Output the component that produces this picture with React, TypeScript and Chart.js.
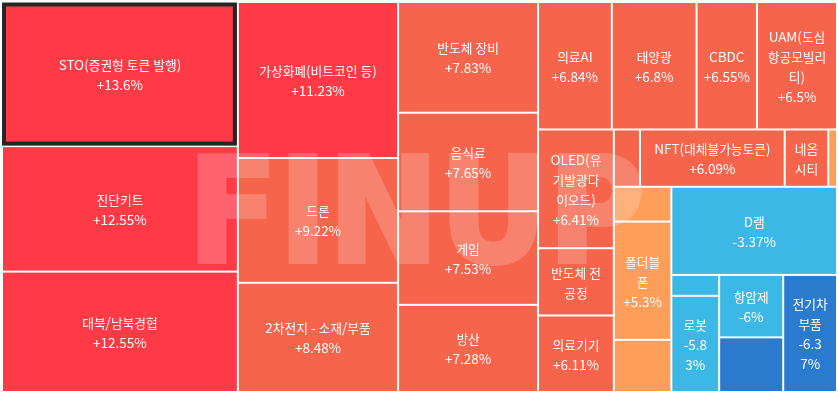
import React, { useEffect, useRef } from 'react';
import { Chart, registerables } from 'chart.js';

Chart.register(...registerables);

// ---- Data (theme heat-map, ordered by change) ----
const themeNames: string[] = [
  'STO(증권형 토큰 발행)', '진단키트', '대북/남북경협',
  '가상화폐(비트코인 등)', '드론', '2차전지 - 소재/부품',
  '반도체 장비', '음식료', '게임', '방산',
  '의료AI', '태양광', 'CBDC', 'UAM(도심항공모빌리티)',
  'OLED(유기발광다이오드)', '반도체 전공정', '의료기기',
  '마이크로 LED', 'NFT(대체불가능토큰)', '네옴시티', '스마트팩토리',
  '우주항공', '폴더블폰', '시스템반도체',
  'D램',
  '낸드플래시', '로봇',
  '항암제', '수소차(연료전지)',
  '전기차부품',
];

// % change of each theme
const changes: number[] = [
  13.6, 12.55, 12.55,
  11.23, 9.22, 8.48,
  7.83, 7.65, 7.53, 7.28,
  6.84, 6.8, 6.55, 6.5,
  6.41, 6.25, 6.11,
  6.1, 6.09, 6.02, 5.96,
  5.6, 5.3, 5.12,
  -3.37,
  -4.9, -5.83,
  -6, -6.2,
  -6.37,
];

// relative size of each theme (area weight)
const weights: number[] = [
  340, 296, 284,
  250, 200, 175,
  155, 138, 131, 122,
  94, 108, 77, 102,
  90, 51, 58,
  15, 83, 25, 5,
  20, 68, 30,
  146,
  10, 46,
  40, 35,
  63,
];

// squarified strips: how many consecutive themes form each strip, and its orientation
const stripCounts: number[] = [3, 3, 4, 4, 3, 4, 3, 1, 2, 2, 1];
const stripDirs: string[] = ['col', 'col', 'col', 'row', 'col', 'row', 'col', 'row', 'col', 'col', 'row'];

const selectedTheme = 'STO(증권형 토큰 발행)';
const watermarkText = 'FINUP';

// ---- helpers ----
type Rect = { x0: number; y0: number; x1: number; y1: number };

function computeLayout(): Rect[] {
  const rects: Rect[] = [];
  let x0 = 0, y0 = 0;
  const x1 = 1, y1 = 1;
  let remaining = weights.reduce((a, b) => a + b, 0);
  let idx = 0;
  stripCounts.forEach((n, s) => {
    const items = weights.slice(idx, idx + n);
    const sum = items.reduce((a, b) => a + b, 0);
    if (stripDirs[s] === 'col') {
      const w = (x1 - x0) * (sum / remaining);
      let yy = y0;
      items.forEach((v) => {
        const h = (y1 - y0) * (v / sum);
        rects.push({ x0, y0: yy, x1: x0 + w, y1: yy + h });
        yy += h;
      });
      x0 += w;
    } else {
      const h = (y1 - y0) * (sum / remaining);
      let xx = x0;
      items.forEach((v) => {
        const w = (x1 - x0) * (v / sum);
        rects.push({ x0: xx, y0, x1: xx + w, y1: y0 + h });
        xx += w;
      });
      y0 += h;
    }
    remaining -= sum;
    idx += n;
  });
  return rects;
}

function colorFor(v: number): string {
  if (v >= 10) return '#ff3a47';
  if (v >= 6) return '#f5644b';
  if (v >= 0) return '#ff9d5a';
  if (v >= -6) return '#3cb8e7';
  return '#2a7bcd';
}

function fmt(v: number): string {
  return (v > 0 ? '+' : '') + String(v) + '%';
}

const FAMILY = '"Noto Sans CJK KR", sans-serif';
const HANGUL_ADVANCE = 11.7; // target advance of one Hangul syllable, px
let HANGUL_FONT = `12.7px ${FAMILY}`;
const LATIN_FONT = `13.5px ${FAMILY}`;
const LINE_H = 20;
const PAD_NAME = 8;
const PAD_VALUE = 5.5;
const PAD_Y = 6;

const isHangul = (ch: string) => /[\uac00-\ud7a3\u3131-\u318e\u1100-\u11ff]/.test(ch);

function runsOf(s: string): { t: string; h: boolean }[] {
  const out: { t: string; h: boolean }[] = [];
  for (const ch of Array.from(s)) {
    const h = isHangul(ch);
    if (out.length && out[out.length - 1].h === h) out[out.length - 1].t += ch;
    else out.push({ t: ch, h });
  }
  return out;
}

function measure(ctx: CanvasRenderingContext2D, s: string): number {
  let w = 0;
  runsOf(s).forEach((r) => {
    ctx.font = r.h ? HANGUL_FONT : LATIN_FONT;
    w += ctx.measureText(r.t).width;
  });
  return w;
}

function drawLine(ctx: CanvasRenderingContext2D, s: string, cx: number, baseY: number) {
  let x = cx - measure(ctx, s) / 2;
  ctx.textAlign = 'left';
  ctx.textBaseline = 'alphabetic';
  runsOf(s).forEach((r) => {
    ctx.font = r.h ? HANGUL_FONT : LATIN_FONT;
    ctx.fillText(r.t, x, baseY);
    x += ctx.measureText(r.t).width;
  });
}

// CSS-like break units: no break before closing marks / %, none after opening marks / signs
const NO_BREAK_BEFORE = new Set([')', '%', '.', ',', ']', '}']);
const NO_BREAK_AFTER = new Set(['(', '-', '+', '[', '{']);

function clusters(text: string): string[] {
  const chars = Array.from(text);
  const out: string[] = [];
  let cur = '';
  chars.forEach((ch, i) => {
    const prev = chars[i - 1];
    if (!cur) { cur = ch; return; }
    if (ch === ' ' || prev === ' ') { out.push(cur); cur = ch; return; }
    if (NO_BREAK_BEFORE.has(ch) || NO_BREAK_AFTER.has(prev)) cur += ch;
    else { out.push(cur); cur = ch; }
  });
  if (cur) out.push(cur);
  return out;
}

function wrap(ctx: CanvasRenderingContext2D, text: string, maxW: number): string[] {
  const lines: string[] = [];
  let cur = '';
  for (const c of clusters(text)) {
    if (c === ' ') { if (cur) cur += c; continue; }
    const test = cur + c;
    if (cur.trim() && measure(ctx, test.trim()) > maxW) {
      lines.push(cur.trim());
      cur = c;
    } else {
      cur = test;
    }
  }
  if (cur.trim()) lines.push(cur.trim());
  return lines;
}

const bgPlugin = {
  id: 'bg',
  beforeDraw(chart: any) {
    const { ctx, width, height } = chart;
    ctx.save();
    ctx.fillStyle = '#ffffff';
    ctx.fillRect(0, 0, width, height);
    ctx.restore();
  },
};

const treemapPlugin = {
  id: 'treemap',
  afterDatasetsDraw(chart: any) {
    const { ctx, chartArea } = chart;
    const xs = chart.scales.x;
    const ys = chart.scales.y;
    const rects = computeLayout();
    const px = rects.map((r) => {
      const a = xs.getPixelForValue(r.x0);
      const b = xs.getPixelForValue(r.x1);
      const c = ys.getPixelForValue(r.y0);
      const d = ys.getPixelForValue(r.y1);
      return { x: a + 1, y: c + 1, w: b - a - 2, h: d - c - 2, rx0: a, rx1: b, ry0: c, ry1: d };
    });
    ctx.save();

    // size the Hangul face so one syllable advances HANGUL_ADVANCE px
    ctx.font = `100px ${FAMILY}`;
    const ratio = ctx.measureText('가').width / 100 || 0.92;
    HANGUL_FONT = `${(HANGUL_ADVANCE / ratio).toFixed(2)}px ${FAMILY}`;

    // cells
    px.forEach((p, i) => {
      ctx.fillStyle = colorFor(changes[i]);
      ctx.fillRect(p.x, p.y, p.w, p.h);
    });

    // watermark (drawn opaque off-screen, composited translucent)
    const aw = chartArea.right - chartArea.left;
    const ah = chartArea.bottom - chartArea.top;
    const off = document.createElement('canvas');
    off.width = chart.width;
    off.height = chart.height;
    const o = off.getContext('2d') as CanvasRenderingContext2D;
    const fontSize = (ah * 0.274) / 0.729;
    o.font = `bold ${fontSize}px "DejaVu Sans"`;
    const mw = o.measureText(watermarkText).width;
    o.translate(chartArea.left + aw * 0.496, chartArea.top + ah * 0.667);
    o.scale((aw * 0.548) / mw, 1);
    o.fillStyle = '#ffffff';
    o.strokeStyle = '#ffffff';
    o.lineWidth = 4;
    o.lineJoin = 'miter';
    o.textAlign = 'center';
    o.textBaseline = 'alphabetic';
    o.fillText(watermarkText, 0, 0);
    o.strokeText(watermarkText, 0, 0);
    ctx.globalAlpha = 0.2;
    ctx.drawImage(off, 0, 0);
    ctx.globalAlpha = 1;

    // labels
    ctx.fillStyle = '#ffffff';
    px.forEach((p, i) => {
      const maxW = p.w - 2 * PAD_NAME;
      if (maxW < 10) return;
      const maxLines = Math.floor((p.h - 2 * PAD_Y) / LINE_H);
      if (maxLines < 1) return;
      const nameLines = wrap(ctx, themeNames[i], maxW);
      const valLines = wrap(ctx, fmt(changes[i]), p.w - 2 * PAD_VALUE);
      if (nameLines.length > maxLines) return;
      const lines = nameLines.length + valLines.length <= maxLines ? nameLines.concat(valLines) : nameLines;
      const cy = p.y + p.h / 2 + 1;
      const startY = cy - ((lines.length - 1) * LINE_H) / 2;
      lines.forEach((ln, k) => drawLine(ctx, ln, p.x + p.w / 2, startY + k * LINE_H + 5));
    });

    // selected theme outline
    const si = themeNames.indexOf(selectedTheme);
    if (si >= 0) {
      const p = px[si];
      ctx.strokeStyle = '#262626';
      ctx.lineWidth = 4;
      ctx.strokeRect(p.rx0 + 2, p.ry0 + 2.5, p.rx1 - p.rx0 - 5, p.ry1 - p.ry0 - 5);
    }
    ctx.restore();
  },
};

export default function App() {
  const ref = useRef<HTMLCanvasElement | null>(null);
  useEffect(() => {
    if (!ref.current) return;
    const chart = new Chart(ref.current, {
      type: 'scatter',
      data: { datasets: [] },
      options: {
        responsive: false,
        animation: false,
        devicePixelRatio: 1,
        layout: { padding: { left: 2, top: 2, right: 1, bottom: 2 } },
        scales: {
          x: { type: 'linear', min: 0, max: 1, display: false },
          y: { type: 'linear', min: 0, max: 1, reverse: true, display: false },
        },
        plugins: { legend: { display: false }, tooltip: { enabled: false } },
      },
      plugins: [bgPlugin, treemapPlugin],
    } as any);
    return () => chart.destroy();
  }, []);
  return (
    <div style={{ position: 'fixed', left: 0, top: 0, width: 838, height: 394, background: '#fff' }}>
      <canvas ref={ref} width={838} height={394} style={{ display: 'block', width: 838, height: 394 }} />
    </div>
  );
}
